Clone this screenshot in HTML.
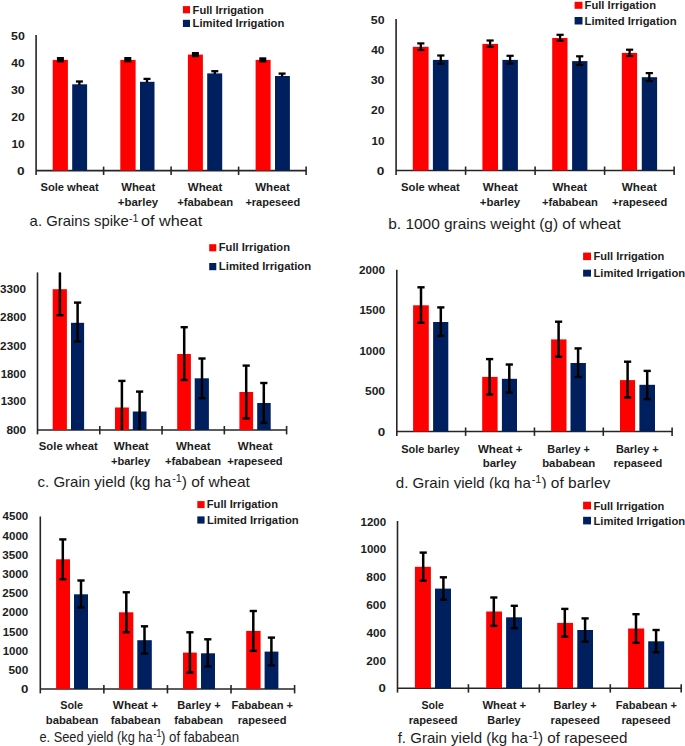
<!DOCTYPE html>
<html><head><meta charset="utf-8"><style>
html,body{margin:0;padding:0;background:#fff;}
svg{display:block;}
text{font-family:"Liberation Sans",sans-serif;}
</style></head><body>
<svg width="685" height="746" viewBox="0 0 685 746">
<rect width="685" height="746" fill="#fff"/>
<line x1="36.10" y1="35.00" x2="36.10" y2="175.00" stroke="#262626" stroke-width="1.60"/>
<line x1="36.10" y1="170.60" x2="306.10" y2="170.60" stroke="#262626" stroke-width="1.60"/>
<line x1="103.60" y1="166.60" x2="103.60" y2="175.00" stroke="#262626" stroke-width="1.60"/>
<line x1="171.10" y1="166.60" x2="171.10" y2="175.00" stroke="#262626" stroke-width="1.60"/>
<line x1="238.60" y1="166.60" x2="238.60" y2="175.00" stroke="#262626" stroke-width="1.60"/>
<line x1="306.10" y1="166.60" x2="306.10" y2="175.00" stroke="#262626" stroke-width="1.60"/>
<rect x="52.70" y="59.90" width="15.20" height="110.70" fill="#ff0000"/>
<rect x="72.20" y="84.30" width="14.90" height="86.30" fill="#001f5f"/>
<rect x="120.30" y="59.90" width="15.30" height="110.70" fill="#ff0000"/>
<rect x="140.00" y="81.80" width="14.50" height="88.80" fill="#001f5f"/>
<rect x="187.90" y="54.60" width="15.00" height="116.00" fill="#ff0000"/>
<rect x="207.20" y="73.40" width="15.00" height="97.20" fill="#001f5f"/>
<rect x="255.60" y="59.90" width="15.00" height="110.70" fill="#ff0000"/>
<rect x="275.00" y="76.00" width="14.90" height="94.60" fill="#001f5f"/>
<rect x="56.90" y="57.00" width="7.00" height="5.40" fill="#000000"/>
<rect x="124.30" y="57.00" width="7.00" height="5.40" fill="#000000"/>
<rect x="191.90" y="52.00" width="7.00" height="5.20" fill="#000000"/>
<rect x="259.30" y="57.30" width="7.00" height="5.20" fill="#000000"/>
<line x1="79.40" y1="81.50" x2="79.40" y2="85.00" stroke="#000000" stroke-width="2.30"/>
<line x1="75.90" y1="81.50" x2="82.90" y2="81.50" stroke="#000000" stroke-width="2.30"/>
<line x1="147.00" y1="78.90" x2="147.00" y2="82.50" stroke="#000000" stroke-width="2.30"/>
<line x1="143.50" y1="78.90" x2="150.50" y2="78.90" stroke="#000000" stroke-width="2.30"/>
<line x1="214.80" y1="71.20" x2="214.80" y2="74.00" stroke="#000000" stroke-width="2.30"/>
<line x1="211.30" y1="71.20" x2="218.30" y2="71.20" stroke="#000000" stroke-width="2.30"/>
<line x1="282.10" y1="73.60" x2="282.10" y2="76.70" stroke="#000000" stroke-width="2.30"/>
<line x1="278.60" y1="73.60" x2="285.60" y2="73.60" stroke="#000000" stroke-width="2.30"/>
<rect x="182.90" y="6.10" width="7.10" height="7.20" fill="#ff0000"/>
<rect x="182.90" y="19.80" width="7.10" height="7.20" fill="#001f5f"/>
<line x1="396.10" y1="19.00" x2="396.10" y2="174.90" stroke="#262626" stroke-width="1.60"/>
<line x1="396.10" y1="170.50" x2="674.10" y2="170.50" stroke="#262626" stroke-width="1.60"/>
<line x1="465.60" y1="166.50" x2="465.60" y2="174.90" stroke="#262626" stroke-width="1.60"/>
<line x1="535.10" y1="166.50" x2="535.10" y2="174.90" stroke="#262626" stroke-width="1.60"/>
<line x1="604.60" y1="166.50" x2="604.60" y2="174.90" stroke="#262626" stroke-width="1.60"/>
<line x1="674.10" y1="166.50" x2="674.10" y2="174.90" stroke="#262626" stroke-width="1.60"/>
<rect x="412.80" y="46.80" width="15.80" height="123.70" fill="#ff0000"/>
<rect x="432.90" y="59.90" width="15.60" height="110.60" fill="#001f5f"/>
<rect x="482.40" y="43.90" width="15.60" height="126.60" fill="#ff0000"/>
<rect x="502.40" y="59.90" width="15.50" height="110.60" fill="#001f5f"/>
<rect x="552.20" y="38.00" width="15.30" height="132.50" fill="#ff0000"/>
<rect x="572.10" y="61.10" width="15.30" height="109.40" fill="#001f5f"/>
<rect x="621.80" y="52.90" width="15.30" height="117.60" fill="#ff0000"/>
<rect x="641.80" y="77.20" width="15.30" height="93.30" fill="#001f5f"/>
<line x1="420.80" y1="43.40" x2="420.80" y2="50.00" stroke="#000000" stroke-width="2.30"/>
<line x1="417.20" y1="43.40" x2="424.40" y2="43.40" stroke="#000000" stroke-width="2.20"/>
<line x1="417.20" y1="50.00" x2="424.40" y2="50.00" stroke="#000000" stroke-width="2.20"/>
<line x1="440.80" y1="55.50" x2="440.80" y2="63.80" stroke="#000000" stroke-width="2.30"/>
<line x1="437.20" y1="55.50" x2="444.40" y2="55.50" stroke="#000000" stroke-width="2.20"/>
<line x1="437.20" y1="63.80" x2="444.40" y2="63.80" stroke="#000000" stroke-width="2.20"/>
<line x1="490.10" y1="40.50" x2="490.10" y2="46.80" stroke="#000000" stroke-width="2.30"/>
<line x1="486.50" y1="40.50" x2="493.70" y2="40.50" stroke="#000000" stroke-width="2.20"/>
<line x1="486.50" y1="46.80" x2="493.70" y2="46.80" stroke="#000000" stroke-width="2.20"/>
<line x1="510.10" y1="55.80" x2="510.10" y2="63.60" stroke="#000000" stroke-width="2.30"/>
<line x1="506.50" y1="55.80" x2="513.70" y2="55.80" stroke="#000000" stroke-width="2.20"/>
<line x1="506.50" y1="63.60" x2="513.70" y2="63.60" stroke="#000000" stroke-width="2.20"/>
<line x1="560.10" y1="34.80" x2="560.10" y2="40.70" stroke="#000000" stroke-width="2.30"/>
<line x1="556.50" y1="34.80" x2="563.70" y2="34.80" stroke="#000000" stroke-width="2.20"/>
<line x1="556.50" y1="40.70" x2="563.70" y2="40.70" stroke="#000000" stroke-width="2.20"/>
<line x1="579.70" y1="56.30" x2="579.70" y2="65.00" stroke="#000000" stroke-width="2.30"/>
<line x1="576.10" y1="56.30" x2="583.30" y2="56.30" stroke="#000000" stroke-width="2.20"/>
<line x1="576.10" y1="65.00" x2="583.30" y2="65.00" stroke="#000000" stroke-width="2.20"/>
<line x1="629.60" y1="49.70" x2="629.60" y2="56.00" stroke="#000000" stroke-width="2.30"/>
<line x1="626.00" y1="49.70" x2="633.20" y2="49.70" stroke="#000000" stroke-width="2.20"/>
<line x1="626.00" y1="56.00" x2="633.20" y2="56.00" stroke="#000000" stroke-width="2.20"/>
<line x1="649.30" y1="73.10" x2="649.30" y2="81.10" stroke="#000000" stroke-width="2.30"/>
<line x1="645.70" y1="73.10" x2="652.90" y2="73.10" stroke="#000000" stroke-width="2.20"/>
<line x1="645.70" y1="81.10" x2="652.90" y2="81.10" stroke="#000000" stroke-width="2.20"/>
<rect x="574.60" y="1.80" width="7.90" height="7.00" fill="#ff0000"/>
<rect x="574.60" y="17.00" width="7.90" height="7.50" fill="#001f5f"/>
<line x1="37.50" y1="272.40" x2="37.50" y2="434.40" stroke="#262626" stroke-width="1.60"/>
<line x1="37.50" y1="430.00" x2="286.60" y2="430.00" stroke="#262626" stroke-width="1.60"/>
<line x1="99.78" y1="426.00" x2="99.78" y2="434.40" stroke="#262626" stroke-width="1.60"/>
<line x1="162.05" y1="426.00" x2="162.05" y2="434.40" stroke="#262626" stroke-width="1.60"/>
<line x1="224.33" y1="426.00" x2="224.33" y2="434.40" stroke="#262626" stroke-width="1.60"/>
<line x1="286.60" y1="426.00" x2="286.60" y2="434.40" stroke="#262626" stroke-width="1.60"/>
<rect x="52.70" y="289.20" width="14.20" height="140.80" fill="#ff0000"/>
<rect x="71.00" y="322.80" width="13.10" height="107.20" fill="#001f5f"/>
<rect x="115.00" y="407.50" width="13.90" height="22.50" fill="#ff0000"/>
<rect x="132.80" y="411.50" width="13.70" height="18.50" fill="#001f5f"/>
<rect x="177.20" y="354.00" width="13.70" height="76.00" fill="#ff0000"/>
<rect x="194.70" y="378.30" width="14.20" height="51.70" fill="#001f5f"/>
<rect x="239.40" y="392.00" width="13.70" height="38.00" fill="#ff0000"/>
<rect x="257.20" y="403.00" width="13.50" height="27.00" fill="#001f5f"/>
<line x1="59.90" y1="272.40" x2="59.90" y2="315.20" stroke="#000000" stroke-width="2.50"/>
<line x1="56.30" y1="315.20" x2="63.50" y2="315.20" stroke="#000000" stroke-width="2.40"/>
<line x1="77.60" y1="302.60" x2="77.60" y2="341.50" stroke="#000000" stroke-width="2.50"/>
<line x1="74.00" y1="302.60" x2="81.20" y2="302.60" stroke="#000000" stroke-width="2.40"/>
<line x1="74.00" y1="341.50" x2="81.20" y2="341.50" stroke="#000000" stroke-width="2.40"/>
<line x1="121.90" y1="380.90" x2="121.90" y2="430.00" stroke="#000000" stroke-width="2.50"/>
<line x1="118.30" y1="380.90" x2="125.50" y2="380.90" stroke="#000000" stroke-width="2.40"/>
<line x1="139.60" y1="391.60" x2="139.60" y2="430.00" stroke="#000000" stroke-width="2.50"/>
<line x1="136.00" y1="391.60" x2="143.20" y2="391.60" stroke="#000000" stroke-width="2.40"/>
<line x1="184.20" y1="327.20" x2="184.20" y2="380.00" stroke="#000000" stroke-width="2.50"/>
<line x1="180.60" y1="327.20" x2="187.80" y2="327.20" stroke="#000000" stroke-width="2.40"/>
<line x1="180.60" y1="380.00" x2="187.80" y2="380.00" stroke="#000000" stroke-width="2.40"/>
<line x1="202.00" y1="358.50" x2="202.00" y2="398.20" stroke="#000000" stroke-width="2.50"/>
<line x1="198.40" y1="358.50" x2="205.60" y2="358.50" stroke="#000000" stroke-width="2.40"/>
<line x1="198.40" y1="398.20" x2="205.60" y2="398.20" stroke="#000000" stroke-width="2.40"/>
<line x1="246.20" y1="365.60" x2="246.20" y2="418.40" stroke="#000000" stroke-width="2.50"/>
<line x1="242.60" y1="365.60" x2="249.80" y2="365.60" stroke="#000000" stroke-width="2.40"/>
<line x1="242.60" y1="418.40" x2="249.80" y2="418.40" stroke="#000000" stroke-width="2.40"/>
<line x1="263.80" y1="383.00" x2="263.80" y2="422.90" stroke="#000000" stroke-width="2.50"/>
<line x1="260.20" y1="383.00" x2="267.40" y2="383.00" stroke="#000000" stroke-width="2.40"/>
<line x1="260.20" y1="422.90" x2="267.40" y2="422.90" stroke="#000000" stroke-width="2.40"/>
<rect x="209.20" y="244.20" width="7.10" height="7.10" fill="#ff0000"/>
<rect x="209.20" y="263.00" width="7.10" height="7.20" fill="#001f5f"/>
<line x1="396.80" y1="269.80" x2="396.80" y2="435.90" stroke="#262626" stroke-width="1.60"/>
<line x1="396.80" y1="431.50" x2="672.10" y2="431.50" stroke="#262626" stroke-width="1.60"/>
<line x1="465.62" y1="427.50" x2="465.62" y2="435.90" stroke="#262626" stroke-width="1.60"/>
<line x1="534.45" y1="427.50" x2="534.45" y2="435.90" stroke="#262626" stroke-width="1.60"/>
<line x1="603.28" y1="427.50" x2="603.28" y2="435.90" stroke="#262626" stroke-width="1.60"/>
<line x1="672.10" y1="427.50" x2="672.10" y2="435.90" stroke="#262626" stroke-width="1.60"/>
<rect x="413.10" y="305.30" width="15.70" height="126.20" fill="#ff0000"/>
<rect x="433.10" y="322.00" width="15.20" height="109.50" fill="#001f5f"/>
<rect x="482.20" y="376.90" width="15.40" height="54.60" fill="#ff0000"/>
<rect x="501.90" y="378.80" width="15.10" height="52.70" fill="#001f5f"/>
<rect x="551.10" y="339.40" width="15.40" height="92.10" fill="#ff0000"/>
<rect x="570.50" y="363.00" width="15.40" height="68.50" fill="#001f5f"/>
<rect x="620.00" y="380.10" width="15.10" height="51.40" fill="#ff0000"/>
<rect x="639.40" y="384.80" width="15.60" height="46.70" fill="#001f5f"/>
<line x1="421.00" y1="287.30" x2="421.00" y2="322.80" stroke="#000000" stroke-width="2.50"/>
<line x1="417.40" y1="287.30" x2="424.60" y2="287.30" stroke="#000000" stroke-width="2.40"/>
<line x1="417.40" y1="322.80" x2="424.60" y2="322.80" stroke="#000000" stroke-width="2.40"/>
<line x1="440.80" y1="307.40" x2="440.80" y2="335.90" stroke="#000000" stroke-width="2.50"/>
<line x1="437.20" y1="307.40" x2="444.40" y2="307.40" stroke="#000000" stroke-width="2.40"/>
<line x1="437.20" y1="335.90" x2="444.40" y2="335.90" stroke="#000000" stroke-width="2.40"/>
<line x1="489.60" y1="359.10" x2="489.60" y2="394.40" stroke="#000000" stroke-width="2.50"/>
<line x1="486.00" y1="359.10" x2="493.20" y2="359.10" stroke="#000000" stroke-width="2.40"/>
<line x1="486.00" y1="394.40" x2="493.20" y2="394.40" stroke="#000000" stroke-width="2.40"/>
<line x1="509.30" y1="364.50" x2="509.30" y2="392.50" stroke="#000000" stroke-width="2.50"/>
<line x1="505.70" y1="364.50" x2="512.90" y2="364.50" stroke="#000000" stroke-width="2.40"/>
<line x1="505.70" y1="392.50" x2="512.90" y2="392.50" stroke="#000000" stroke-width="2.40"/>
<line x1="558.60" y1="321.70" x2="558.60" y2="356.80" stroke="#000000" stroke-width="2.50"/>
<line x1="555.00" y1="321.70" x2="562.20" y2="321.70" stroke="#000000" stroke-width="2.40"/>
<line x1="555.00" y1="356.80" x2="562.20" y2="356.80" stroke="#000000" stroke-width="2.40"/>
<line x1="578.10" y1="348.40" x2="578.10" y2="377.00" stroke="#000000" stroke-width="2.50"/>
<line x1="574.50" y1="348.40" x2="581.70" y2="348.40" stroke="#000000" stroke-width="2.40"/>
<line x1="574.50" y1="377.00" x2="581.70" y2="377.00" stroke="#000000" stroke-width="2.40"/>
<line x1="627.60" y1="361.70" x2="627.60" y2="397.50" stroke="#000000" stroke-width="2.50"/>
<line x1="624.00" y1="361.70" x2="631.20" y2="361.70" stroke="#000000" stroke-width="2.40"/>
<line x1="624.00" y1="397.50" x2="631.20" y2="397.50" stroke="#000000" stroke-width="2.40"/>
<line x1="647.20" y1="370.90" x2="647.20" y2="399.10" stroke="#000000" stroke-width="2.50"/>
<line x1="643.60" y1="370.90" x2="650.80" y2="370.90" stroke="#000000" stroke-width="2.40"/>
<line x1="643.60" y1="399.10" x2="650.80" y2="399.10" stroke="#000000" stroke-width="2.40"/>
<rect x="583.10" y="252.60" width="7.90" height="7.50" fill="#ff0000"/>
<rect x="583.10" y="269.70" width="7.90" height="6.90" fill="#001f5f"/>
<line x1="40.30" y1="516.50" x2="40.30" y2="693.40" stroke="#262626" stroke-width="1.60"/>
<line x1="40.30" y1="689.00" x2="294.60" y2="689.00" stroke="#262626" stroke-width="1.60"/>
<line x1="103.88" y1="685.00" x2="103.88" y2="693.40" stroke="#262626" stroke-width="1.60"/>
<line x1="167.45" y1="685.00" x2="167.45" y2="693.40" stroke="#262626" stroke-width="1.60"/>
<line x1="231.03" y1="685.00" x2="231.03" y2="693.40" stroke="#262626" stroke-width="1.60"/>
<line x1="294.60" y1="685.00" x2="294.60" y2="693.40" stroke="#262626" stroke-width="1.60"/>
<rect x="56.10" y="559.30" width="13.90" height="129.70" fill="#ff0000"/>
<rect x="74.00" y="594.30" width="14.00" height="94.70" fill="#001f5f"/>
<rect x="119.00" y="612.30" width="14.30" height="76.70" fill="#ff0000"/>
<rect x="137.30" y="640.20" width="14.50" height="48.80" fill="#001f5f"/>
<rect x="183.00" y="652.60" width="13.80" height="36.40" fill="#ff0000"/>
<rect x="201.00" y="653.30" width="14.00" height="35.70" fill="#001f5f"/>
<rect x="246.20" y="630.90" width="14.40" height="58.10" fill="#ff0000"/>
<rect x="264.60" y="651.60" width="13.80" height="37.40" fill="#001f5f"/>
<line x1="62.80" y1="539.40" x2="62.80" y2="579.30" stroke="#000000" stroke-width="2.50"/>
<line x1="59.20" y1="539.40" x2="66.40" y2="539.40" stroke="#000000" stroke-width="2.40"/>
<line x1="59.20" y1="579.30" x2="66.40" y2="579.30" stroke="#000000" stroke-width="2.40"/>
<line x1="81.00" y1="580.50" x2="81.00" y2="607.60" stroke="#000000" stroke-width="2.50"/>
<line x1="77.40" y1="580.50" x2="84.60" y2="580.50" stroke="#000000" stroke-width="2.40"/>
<line x1="77.40" y1="607.60" x2="84.60" y2="607.60" stroke="#000000" stroke-width="2.40"/>
<line x1="126.30" y1="592.30" x2="126.30" y2="632.20" stroke="#000000" stroke-width="2.50"/>
<line x1="122.70" y1="592.30" x2="129.90" y2="592.30" stroke="#000000" stroke-width="2.40"/>
<line x1="122.70" y1="632.20" x2="129.90" y2="632.20" stroke="#000000" stroke-width="2.40"/>
<line x1="144.50" y1="626.30" x2="144.50" y2="653.60" stroke="#000000" stroke-width="2.50"/>
<line x1="140.90" y1="626.30" x2="148.10" y2="626.30" stroke="#000000" stroke-width="2.40"/>
<line x1="140.90" y1="653.60" x2="148.10" y2="653.60" stroke="#000000" stroke-width="2.40"/>
<line x1="189.90" y1="632.30" x2="189.90" y2="672.50" stroke="#000000" stroke-width="2.50"/>
<line x1="186.30" y1="632.30" x2="193.50" y2="632.30" stroke="#000000" stroke-width="2.40"/>
<line x1="186.30" y1="672.50" x2="193.50" y2="672.50" stroke="#000000" stroke-width="2.40"/>
<line x1="207.80" y1="639.30" x2="207.80" y2="666.40" stroke="#000000" stroke-width="2.50"/>
<line x1="204.20" y1="639.30" x2="211.40" y2="639.30" stroke="#000000" stroke-width="2.40"/>
<line x1="204.20" y1="666.40" x2="211.40" y2="666.40" stroke="#000000" stroke-width="2.40"/>
<line x1="253.30" y1="611.00" x2="253.30" y2="650.90" stroke="#000000" stroke-width="2.50"/>
<line x1="249.70" y1="611.00" x2="256.90" y2="611.00" stroke="#000000" stroke-width="2.40"/>
<line x1="249.70" y1="650.90" x2="256.90" y2="650.90" stroke="#000000" stroke-width="2.40"/>
<line x1="271.40" y1="637.60" x2="271.40" y2="665.50" stroke="#000000" stroke-width="2.50"/>
<line x1="267.80" y1="637.60" x2="275.00" y2="637.60" stroke="#000000" stroke-width="2.40"/>
<line x1="267.80" y1="665.50" x2="275.00" y2="665.50" stroke="#000000" stroke-width="2.40"/>
<rect x="197.30" y="501.10" width="7.30" height="7.00" fill="#ff0000"/>
<rect x="197.30" y="516.40" width="7.30" height="7.20" fill="#001f5f"/>
<line x1="397.50" y1="521.00" x2="397.50" y2="692.60" stroke="#262626" stroke-width="1.60"/>
<line x1="397.50" y1="688.20" x2="681.20" y2="688.20" stroke="#262626" stroke-width="1.60"/>
<line x1="468.43" y1="684.20" x2="468.43" y2="692.60" stroke="#262626" stroke-width="1.60"/>
<line x1="539.35" y1="684.20" x2="539.35" y2="692.60" stroke="#262626" stroke-width="1.60"/>
<line x1="610.28" y1="684.20" x2="610.28" y2="692.60" stroke="#262626" stroke-width="1.60"/>
<line x1="681.20" y1="684.20" x2="681.20" y2="692.60" stroke="#262626" stroke-width="1.60"/>
<rect x="414.90" y="566.80" width="16.00" height="121.40" fill="#ff0000"/>
<rect x="435.00" y="588.60" width="16.00" height="99.60" fill="#001f5f"/>
<rect x="486.20" y="611.50" width="15.80" height="76.70" fill="#ff0000"/>
<rect x="506.10" y="617.30" width="15.90" height="70.90" fill="#001f5f"/>
<rect x="557.20" y="622.90" width="15.80" height="65.30" fill="#ff0000"/>
<rect x="577.30" y="630.00" width="15.70" height="58.20" fill="#001f5f"/>
<rect x="628.10" y="628.50" width="16.10" height="59.70" fill="#ff0000"/>
<rect x="648.20" y="641.30" width="16.00" height="46.90" fill="#001f5f"/>
<line x1="423.20" y1="552.60" x2="423.20" y2="580.70" stroke="#000000" stroke-width="2.50"/>
<line x1="419.60" y1="552.60" x2="426.80" y2="552.60" stroke="#000000" stroke-width="2.40"/>
<line x1="419.60" y1="580.70" x2="426.80" y2="580.70" stroke="#000000" stroke-width="2.40"/>
<line x1="443.40" y1="577.30" x2="443.40" y2="599.70" stroke="#000000" stroke-width="2.50"/>
<line x1="439.80" y1="577.30" x2="447.00" y2="577.30" stroke="#000000" stroke-width="2.40"/>
<line x1="439.80" y1="599.70" x2="447.00" y2="599.70" stroke="#000000" stroke-width="2.40"/>
<line x1="493.80" y1="597.50" x2="493.80" y2="625.90" stroke="#000000" stroke-width="2.50"/>
<line x1="490.20" y1="597.50" x2="497.40" y2="597.50" stroke="#000000" stroke-width="2.40"/>
<line x1="490.20" y1="625.90" x2="497.40" y2="625.90" stroke="#000000" stroke-width="2.40"/>
<line x1="514.30" y1="605.80" x2="514.30" y2="628.20" stroke="#000000" stroke-width="2.50"/>
<line x1="510.70" y1="605.80" x2="517.90" y2="605.80" stroke="#000000" stroke-width="2.40"/>
<line x1="510.70" y1="628.20" x2="517.90" y2="628.20" stroke="#000000" stroke-width="2.40"/>
<line x1="564.80" y1="608.90" x2="564.80" y2="636.60" stroke="#000000" stroke-width="2.50"/>
<line x1="561.20" y1="608.90" x2="568.40" y2="608.90" stroke="#000000" stroke-width="2.40"/>
<line x1="561.20" y1="636.60" x2="568.40" y2="636.60" stroke="#000000" stroke-width="2.40"/>
<line x1="585.10" y1="618.40" x2="585.10" y2="641.70" stroke="#000000" stroke-width="2.50"/>
<line x1="581.50" y1="618.40" x2="588.70" y2="618.40" stroke="#000000" stroke-width="2.40"/>
<line x1="581.50" y1="641.70" x2="588.70" y2="641.70" stroke="#000000" stroke-width="2.40"/>
<line x1="636.00" y1="614.20" x2="636.00" y2="642.90" stroke="#000000" stroke-width="2.50"/>
<line x1="632.40" y1="614.20" x2="639.60" y2="614.20" stroke="#000000" stroke-width="2.40"/>
<line x1="632.40" y1="642.90" x2="639.60" y2="642.90" stroke="#000000" stroke-width="2.40"/>
<line x1="656.10" y1="630.00" x2="656.10" y2="652.20" stroke="#000000" stroke-width="2.50"/>
<line x1="652.50" y1="630.00" x2="659.70" y2="630.00" stroke="#000000" stroke-width="2.40"/>
<line x1="652.50" y1="652.20" x2="659.70" y2="652.20" stroke="#000000" stroke-width="2.40"/>
<rect x="583.10" y="501.70" width="7.90" height="7.60" fill="#ff0000"/>
<rect x="583.10" y="516.80" width="7.90" height="7.60" fill="#001f5f"/>
<text id="t0" x="20.92" y="174.70" text-anchor="middle" font-family="Liberation Sans" font-weight="bold" font-size="10.60" textLength="7.62" lengthAdjust="spacingAndGlyphs" fill="#1c1c1c">0</text>
<text id="t1" x="18.01" y="147.66" text-anchor="middle" font-family="Liberation Sans" font-weight="bold" font-size="10.60" textLength="13.23" lengthAdjust="spacingAndGlyphs" fill="#1c1c1c">10</text>
<text id="t2" x="17.95" y="120.62" text-anchor="middle" font-family="Liberation Sans" font-weight="bold" font-size="10.60" textLength="13.49" lengthAdjust="spacingAndGlyphs" fill="#1c1c1c">20</text>
<text id="t3" x="17.84" y="93.58" text-anchor="middle" font-family="Liberation Sans" font-weight="bold" font-size="10.60" textLength="13.71" lengthAdjust="spacingAndGlyphs" fill="#1c1c1c">30</text>
<text id="t4" x="18.05" y="66.54" text-anchor="middle" font-family="Liberation Sans" font-weight="bold" font-size="10.60" textLength="13.38" lengthAdjust="spacingAndGlyphs" fill="#1c1c1c">40</text>
<text id="t5" x="17.91" y="39.50" text-anchor="middle" font-family="Liberation Sans" font-weight="bold" font-size="10.60" textLength="13.77" lengthAdjust="spacingAndGlyphs" fill="#1c1c1c">50</text>
<text id="t6" x="228.17" y="13.90" text-anchor="middle" font-family="Liberation Sans" font-weight="bold" font-size="11.20" textLength="71.13" lengthAdjust="spacingAndGlyphs" fill="#1c1c1c">Full&#160;Irrigation</text>
<text id="t7" x="238.43" y="27.40" text-anchor="middle" font-family="Liberation Sans" font-weight="bold" font-size="11.20" textLength="91.68" lengthAdjust="spacingAndGlyphs" fill="#1c1c1c">Limited&#160;Irrigation</text>
<text id="t8" x="69.60" y="190.50" text-anchor="middle" font-family="Liberation Sans" font-weight="bold" font-size="11.20" textLength="58.18" lengthAdjust="spacingAndGlyphs" fill="#1c1c1c">Sole&#160;wheat</text>
<text id="t9" x="138.19" y="190.50" text-anchor="middle" font-family="Liberation Sans" font-weight="bold" font-size="11.20" textLength="33.98" lengthAdjust="spacingAndGlyphs" fill="#1c1c1c">Wheat</text>
<text id="t10" x="138.05" y="206.20" text-anchor="middle" font-family="Liberation Sans" font-weight="bold" font-size="11.20" textLength="40.36" lengthAdjust="spacingAndGlyphs" fill="#1c1c1c">+barley</text>
<text id="t11" x="205.08" y="190.50" text-anchor="middle" font-family="Liberation Sans" font-weight="bold" font-size="11.20" textLength="34.62" lengthAdjust="spacingAndGlyphs" fill="#1c1c1c">Wheat</text>
<text id="t12" x="205.16" y="206.20" text-anchor="middle" font-family="Liberation Sans" font-weight="bold" font-size="11.20" textLength="55.99" lengthAdjust="spacingAndGlyphs" fill="#1c1c1c">+fababean</text>
<text id="t13" x="272.51" y="190.50" text-anchor="middle" font-family="Liberation Sans" font-weight="bold" font-size="11.20" textLength="34.64" lengthAdjust="spacingAndGlyphs" fill="#1c1c1c">Wheat</text>
<text id="t14" x="272.76" y="206.20" text-anchor="middle" font-family="Liberation Sans" font-weight="bold" font-size="11.20" textLength="54.70" lengthAdjust="spacingAndGlyphs" fill="#1c1c1c">+rapeseed</text>
<text id="t15" x="79.15" y="225.90" text-anchor="middle" font-family="Liberation Sans" font-weight="normal" font-size="14.30" textLength="99.04" lengthAdjust="spacingAndGlyphs" fill="#1c1c1c">a.&#160;Grains&#160;spike</text>
<text id="t16" x="133.65" y="222.00" text-anchor="middle" font-family="Liberation Sans" font-weight="normal" font-size="10.00" textLength="9.50" lengthAdjust="spacingAndGlyphs" fill="#1c1c1c">-1</text>
<text id="t17" x="171.64" y="225.90" text-anchor="middle" font-family="Liberation Sans" font-weight="normal" font-size="14.30" textLength="61.25" lengthAdjust="spacingAndGlyphs" fill="#1c1c1c">of&#160;wheat</text>
<text id="t18" x="380.69" y="174.60" text-anchor="middle" font-family="Liberation Sans" font-weight="bold" font-size="10.60" textLength="7.62" lengthAdjust="spacingAndGlyphs" fill="#1c1c1c">0</text>
<text id="t19" x="377.95" y="144.50" text-anchor="middle" font-family="Liberation Sans" font-weight="bold" font-size="10.60" textLength="12.99" lengthAdjust="spacingAndGlyphs" fill="#1c1c1c">10</text>
<text id="t20" x="377.80" y="114.40" text-anchor="middle" font-family="Liberation Sans" font-weight="bold" font-size="10.60" textLength="13.36" lengthAdjust="spacingAndGlyphs" fill="#1c1c1c">20</text>
<text id="t21" x="377.64" y="84.30" text-anchor="middle" font-family="Liberation Sans" font-weight="bold" font-size="10.60" textLength="13.79" lengthAdjust="spacingAndGlyphs" fill="#1c1c1c">30</text>
<text id="t22" x="377.85" y="54.20" text-anchor="middle" font-family="Liberation Sans" font-weight="bold" font-size="10.60" textLength="13.19" lengthAdjust="spacingAndGlyphs" fill="#1c1c1c">40</text>
<text id="t23" x="377.66" y="24.10" text-anchor="middle" font-family="Liberation Sans" font-weight="bold" font-size="10.60" textLength="13.72" lengthAdjust="spacingAndGlyphs" fill="#1c1c1c">50</text>
<text id="t24" x="620.31" y="9.00" text-anchor="middle" font-family="Liberation Sans" font-weight="bold" font-size="11.20" textLength="71.43" lengthAdjust="spacingAndGlyphs" fill="#1c1c1c">Full&#160;Irrigation</text>
<text id="t25" x="630.55" y="24.60" text-anchor="middle" font-family="Liberation Sans" font-weight="bold" font-size="11.20" textLength="91.94" lengthAdjust="spacingAndGlyphs" fill="#1c1c1c">Limited&#160;Irrigation</text>
<text id="t26" x="430.49" y="190.50" text-anchor="middle" font-family="Liberation Sans" font-weight="bold" font-size="11.20" textLength="58.70" lengthAdjust="spacingAndGlyphs" fill="#1c1c1c">Sole&#160;wheat</text>
<text id="t27" x="500.29" y="190.60" text-anchor="middle" font-family="Liberation Sans" font-weight="bold" font-size="11.20" textLength="35.05" lengthAdjust="spacingAndGlyphs" fill="#1c1c1c">Wheat</text>
<text id="t28" x="500.05" y="205.80" text-anchor="middle" font-family="Liberation Sans" font-weight="bold" font-size="11.20" textLength="40.36" lengthAdjust="spacingAndGlyphs" fill="#1c1c1c">+barley</text>
<text id="t29" x="569.80" y="190.60" text-anchor="middle" font-family="Liberation Sans" font-weight="bold" font-size="11.20" textLength="34.76" lengthAdjust="spacingAndGlyphs" fill="#1c1c1c">Wheat</text>
<text id="t30" x="569.92" y="205.80" text-anchor="middle" font-family="Liberation Sans" font-weight="bold" font-size="11.20" textLength="55.94" lengthAdjust="spacingAndGlyphs" fill="#1c1c1c">+fababean</text>
<text id="t31" x="639.33" y="190.60" text-anchor="middle" font-family="Liberation Sans" font-weight="bold" font-size="11.20" textLength="35.04" lengthAdjust="spacingAndGlyphs" fill="#1c1c1c">Wheat</text>
<text id="t32" x="639.59" y="205.80" text-anchor="middle" font-family="Liberation Sans" font-weight="bold" font-size="11.20" textLength="55.34" lengthAdjust="spacingAndGlyphs" fill="#1c1c1c">+rapeseed</text>
<text id="t33" x="504.46" y="228.50" text-anchor="middle" font-family="Liberation Sans" font-weight="normal" font-size="14.30" textLength="232.42" lengthAdjust="spacingAndGlyphs" fill="#1c1c1c">b.&#160;1000&#160;grains&#160;weight&#160;(g)&#160;of&#160;wheat</text>
<text id="t34" x="13.02" y="292.90" text-anchor="middle" font-family="Liberation Sans" font-weight="bold" font-size="10.60" textLength="26.06" lengthAdjust="spacingAndGlyphs" fill="#1c1c1c">3300</text>
<text id="t35" x="13.16" y="321.00" text-anchor="middle" font-family="Liberation Sans" font-weight="bold" font-size="10.60" textLength="26.07" lengthAdjust="spacingAndGlyphs" fill="#1c1c1c">2800</text>
<text id="t36" x="13.16" y="349.50" text-anchor="middle" font-family="Liberation Sans" font-weight="bold" font-size="10.60" textLength="26.07" lengthAdjust="spacingAndGlyphs" fill="#1c1c1c">2300</text>
<text id="t37" x="13.38" y="377.70" text-anchor="middle" font-family="Liberation Sans" font-weight="bold" font-size="10.60" textLength="25.29" lengthAdjust="spacingAndGlyphs" fill="#1c1c1c">1800</text>
<text id="t38" x="13.38" y="405.40" text-anchor="middle" font-family="Liberation Sans" font-weight="bold" font-size="10.60" textLength="25.29" lengthAdjust="spacingAndGlyphs" fill="#1c1c1c">1300</text>
<text id="t39" x="16.29" y="433.70" text-anchor="middle" font-family="Liberation Sans" font-weight="bold" font-size="10.60" textLength="19.78" lengthAdjust="spacingAndGlyphs" fill="#1c1c1c">800</text>
<text id="t40" x="254.38" y="251.40" text-anchor="middle" font-family="Liberation Sans" font-weight="bold" font-size="11.20" textLength="71.21" lengthAdjust="spacingAndGlyphs" fill="#1c1c1c">Full&#160;Irrigation</text>
<text id="t41" x="265.02" y="270.00" text-anchor="middle" font-family="Liberation Sans" font-weight="bold" font-size="11.20" textLength="92.30" lengthAdjust="spacingAndGlyphs" fill="#1c1c1c">Limited&#160;Irrigation</text>
<text id="t42" x="68.30" y="450.10" text-anchor="middle" font-family="Liberation Sans" font-weight="bold" font-size="11.20" textLength="58.89" lengthAdjust="spacingAndGlyphs" fill="#1c1c1c">Sole&#160;wheat</text>
<text id="t43" x="131.25" y="449.90" text-anchor="middle" font-family="Liberation Sans" font-weight="bold" font-size="11.20" textLength="34.98" lengthAdjust="spacingAndGlyphs" fill="#1c1c1c">Wheat</text>
<text id="t44" x="130.53" y="465.00" text-anchor="middle" font-family="Liberation Sans" font-weight="bold" font-size="11.20" textLength="39.22" lengthAdjust="spacingAndGlyphs" fill="#1c1c1c">+barley</text>
<text id="t45" x="193.29" y="449.90" text-anchor="middle" font-family="Liberation Sans" font-weight="bold" font-size="11.20" textLength="34.64" lengthAdjust="spacingAndGlyphs" fill="#1c1c1c">Wheat</text>
<text id="t46" x="193.05" y="465.00" text-anchor="middle" font-family="Liberation Sans" font-weight="bold" font-size="11.20" textLength="56.07" lengthAdjust="spacingAndGlyphs" fill="#1c1c1c">+fababean</text>
<text id="t47" x="255.20" y="449.90" text-anchor="middle" font-family="Liberation Sans" font-weight="bold" font-size="11.20" textLength="34.68" lengthAdjust="spacingAndGlyphs" fill="#1c1c1c">Wheat</text>
<text id="t48" x="254.91" y="465.00" text-anchor="middle" font-family="Liberation Sans" font-weight="bold" font-size="11.20" textLength="55.49" lengthAdjust="spacingAndGlyphs" fill="#1c1c1c">+rapeseed</text>
<text id="t49" x="104.39" y="486.50" text-anchor="middle" font-family="Liberation Sans" font-weight="normal" font-size="14.30" textLength="133.69" lengthAdjust="spacingAndGlyphs" fill="#1c1c1c">c.&#160;Grain&#160;yield&#160;(kg&#160;ha</text>
<text id="t50" x="177.02" y="481.50" text-anchor="middle" font-family="Liberation Sans" font-weight="normal" font-size="10.00" textLength="9.57" lengthAdjust="spacingAndGlyphs" fill="#1c1c1c">-1</text>
<text id="t51" x="215.84" y="486.50" text-anchor="middle" font-family="Liberation Sans" font-weight="normal" font-size="14.30" textLength="68.16" lengthAdjust="spacingAndGlyphs" fill="#1c1c1c">)&#160;of&#160;wheat</text>
<text id="t52" x="371.97" y="274.00" text-anchor="middle" font-family="Liberation Sans" font-weight="bold" font-size="10.60" textLength="26.04" lengthAdjust="spacingAndGlyphs" fill="#1c1c1c">2000</text>
<text id="t53" x="372.25" y="314.20" text-anchor="middle" font-family="Liberation Sans" font-weight="bold" font-size="10.60" textLength="25.65" lengthAdjust="spacingAndGlyphs" fill="#1c1c1c">1500</text>
<text id="t54" x="372.25" y="354.70" text-anchor="middle" font-family="Liberation Sans" font-weight="bold" font-size="10.60" textLength="25.65" lengthAdjust="spacingAndGlyphs" fill="#1c1c1c">1000</text>
<text id="t55" x="375.04" y="395.10" text-anchor="middle" font-family="Liberation Sans" font-weight="bold" font-size="10.60" textLength="20.10" lengthAdjust="spacingAndGlyphs" fill="#1c1c1c">500</text>
<text id="t56" x="381.40" y="435.60" text-anchor="middle" font-family="Liberation Sans" font-weight="bold" font-size="10.60" textLength="7.50" lengthAdjust="spacingAndGlyphs" fill="#1c1c1c">0</text>
<text id="t57" x="628.91" y="260.30" text-anchor="middle" font-family="Liberation Sans" font-weight="bold" font-size="11.20" textLength="70.80" lengthAdjust="spacingAndGlyphs" fill="#1c1c1c">Full&#160;Irrigation</text>
<text id="t58" x="639.33" y="276.80" text-anchor="middle" font-family="Liberation Sans" font-weight="bold" font-size="11.20" textLength="91.67" lengthAdjust="spacingAndGlyphs" fill="#1c1c1c">Limited&#160;Irrigation</text>
<text id="t59" x="430.41" y="452.70" text-anchor="middle" font-family="Liberation Sans" font-weight="bold" font-size="11.20" textLength="58.43" lengthAdjust="spacingAndGlyphs" fill="#1c1c1c">Sole&#160;barley</text>
<text id="t60" x="500.24" y="452.60" text-anchor="middle" font-family="Liberation Sans" font-weight="bold" font-size="11.20" textLength="44.55" lengthAdjust="spacingAndGlyphs" fill="#1c1c1c">Wheat&#160;+</text>
<text id="t61" x="499.58" y="466.90" text-anchor="middle" font-family="Liberation Sans" font-weight="bold" font-size="11.20" textLength="33.77" lengthAdjust="spacingAndGlyphs" fill="#1c1c1c">barley</text>
<text id="t62" x="568.54" y="452.90" text-anchor="middle" font-family="Liberation Sans" font-weight="bold" font-size="11.20" textLength="42.39" lengthAdjust="spacingAndGlyphs" fill="#1c1c1c">Barley&#160;+</text>
<text id="t63" x="568.71" y="467.10" text-anchor="middle" font-family="Liberation Sans" font-weight="bold" font-size="11.20" textLength="53.07" lengthAdjust="spacingAndGlyphs" fill="#1c1c1c">bababean</text>
<text id="t64" x="637.31" y="452.90" text-anchor="middle" font-family="Liberation Sans" font-weight="bold" font-size="11.20" textLength="42.87" lengthAdjust="spacingAndGlyphs" fill="#1c1c1c">Barley&#160;+</text>
<text id="t65" x="637.82" y="467.10" text-anchor="middle" font-family="Liberation Sans" font-weight="bold" font-size="11.20" textLength="48.83" lengthAdjust="spacingAndGlyphs" fill="#1c1c1c">repaseed</text>
<text id="t66" x="463.34" y="488.10" text-anchor="middle" font-family="Liberation Sans" font-weight="normal" font-size="14.30" textLength="134.94" lengthAdjust="spacingAndGlyphs" fill="#1c1c1c">d.&#160;Grain&#160;yield&#160;(kg&#160;ha</text>
<text id="t67" x="536.60" y="483.10" text-anchor="middle" font-family="Liberation Sans" font-weight="normal" font-size="10.00" textLength="9.74" lengthAdjust="spacingAndGlyphs" fill="#1c1c1c">-1</text>
<text id="t68" x="575.84" y="488.10" text-anchor="middle" font-family="Liberation Sans" font-weight="normal" font-size="14.30" textLength="68.93" lengthAdjust="spacingAndGlyphs" fill="#1c1c1c">)&#160;of&#160;barley</text>
<text id="t69" x="24.69" y="693.10" text-anchor="middle" font-family="Liberation Sans" font-weight="bold" font-size="10.60" textLength="7.40" lengthAdjust="spacingAndGlyphs" fill="#1c1c1c">0</text>
<text id="t70" x="18.36" y="673.92" text-anchor="middle" font-family="Liberation Sans" font-weight="bold" font-size="10.60" textLength="19.77" lengthAdjust="spacingAndGlyphs" fill="#1c1c1c">500</text>
<text id="t71" x="15.49" y="654.74" text-anchor="middle" font-family="Liberation Sans" font-weight="bold" font-size="10.60" textLength="25.52" lengthAdjust="spacingAndGlyphs" fill="#1c1c1c">1000</text>
<text id="t72" x="15.49" y="635.56" text-anchor="middle" font-family="Liberation Sans" font-weight="bold" font-size="10.60" textLength="25.52" lengthAdjust="spacingAndGlyphs" fill="#1c1c1c">1500</text>
<text id="t73" x="15.24" y="616.38" text-anchor="middle" font-family="Liberation Sans" font-weight="bold" font-size="10.60" textLength="25.74" lengthAdjust="spacingAndGlyphs" fill="#1c1c1c">2000</text>
<text id="t74" x="15.24" y="597.20" text-anchor="middle" font-family="Liberation Sans" font-weight="bold" font-size="10.60" textLength="25.74" lengthAdjust="spacingAndGlyphs" fill="#1c1c1c">2500</text>
<text id="t75" x="15.17" y="578.02" text-anchor="middle" font-family="Liberation Sans" font-weight="bold" font-size="10.60" textLength="25.98" lengthAdjust="spacingAndGlyphs" fill="#1c1c1c">3000</text>
<text id="t76" x="15.17" y="558.84" text-anchor="middle" font-family="Liberation Sans" font-weight="bold" font-size="10.60" textLength="25.98" lengthAdjust="spacingAndGlyphs" fill="#1c1c1c">3500</text>
<text id="t77" x="15.42" y="539.66" text-anchor="middle" font-family="Liberation Sans" font-weight="bold" font-size="10.60" textLength="25.64" lengthAdjust="spacingAndGlyphs" fill="#1c1c1c">4000</text>
<text id="t78" x="15.42" y="520.48" text-anchor="middle" font-family="Liberation Sans" font-weight="bold" font-size="10.60" textLength="25.64" lengthAdjust="spacingAndGlyphs" fill="#1c1c1c">4500</text>
<text id="t79" x="242.38" y="508.30" text-anchor="middle" font-family="Liberation Sans" font-weight="bold" font-size="11.20" textLength="71.21" lengthAdjust="spacingAndGlyphs" fill="#1c1c1c">Full&#160;Irrigation</text>
<text id="t80" x="252.81" y="523.80" text-anchor="middle" font-family="Liberation Sans" font-weight="bold" font-size="11.20" textLength="91.87" lengthAdjust="spacingAndGlyphs" fill="#1c1c1c">Limited&#160;Irrigation</text>
<text id="t81" x="71.66" y="709.10" text-anchor="middle" font-family="Liberation Sans" font-weight="bold" font-size="11.20" textLength="22.91" lengthAdjust="spacingAndGlyphs" fill="#1c1c1c">Sole</text>
<text id="t82" x="72.12" y="723.80" text-anchor="middle" font-family="Liberation Sans" font-weight="bold" font-size="11.20" textLength="52.63" lengthAdjust="spacingAndGlyphs" fill="#1c1c1c">bababean</text>
<text id="t83" x="135.46" y="709.00" text-anchor="middle" font-family="Liberation Sans" font-weight="bold" font-size="11.20" textLength="45.24" lengthAdjust="spacingAndGlyphs" fill="#1c1c1c">Wheat&#160;+</text>
<text id="t84" x="135.70" y="723.60" text-anchor="middle" font-family="Liberation Sans" font-weight="bold" font-size="11.20" textLength="49.74" lengthAdjust="spacingAndGlyphs" fill="#1c1c1c">fababean</text>
<text id="t85" x="199.01" y="709.00" text-anchor="middle" font-family="Liberation Sans" font-weight="bold" font-size="11.20" textLength="43.40" lengthAdjust="spacingAndGlyphs" fill="#1c1c1c">Barley&#160;+</text>
<text id="t86" x="198.67" y="723.60" text-anchor="middle" font-family="Liberation Sans" font-weight="bold" font-size="11.20" textLength="48.95" lengthAdjust="spacingAndGlyphs" fill="#1c1c1c">fababean</text>
<text id="t87" x="262.31" y="709.00" text-anchor="middle" font-family="Liberation Sans" font-weight="bold" font-size="11.20" textLength="61.58" lengthAdjust="spacingAndGlyphs" fill="#1c1c1c">Fababean&#160;+</text>
<text id="t88" x="262.11" y="723.60" text-anchor="middle" font-family="Liberation Sans" font-weight="bold" font-size="11.20" textLength="48.61" lengthAdjust="spacingAndGlyphs" fill="#1c1c1c">rapeseed</text>
<text id="t89" x="96.03" y="741.60" text-anchor="middle" font-family="Liberation Sans" font-weight="normal" font-size="14.00" textLength="113.14" lengthAdjust="spacingAndGlyphs" fill="#1c1c1c">e.&#160;Seed&#160;yield&#160;(kg&#160;ha</text>
<text id="t90" x="157.43" y="737.30" text-anchor="middle" font-family="Liberation Sans" font-weight="normal" font-size="10.00" textLength="8.44" lengthAdjust="spacingAndGlyphs" fill="#1c1c1c">-1</text>
<text id="t91" x="200.04" y="741.60" text-anchor="middle" font-family="Liberation Sans" font-weight="normal" font-size="14.00" textLength="78.15" lengthAdjust="spacingAndGlyphs" fill="#1c1c1c">)&#160;of&#160;fababean</text>
<text id="t92" x="382.31" y="692.30" text-anchor="middle" font-family="Liberation Sans" font-weight="bold" font-size="10.60" textLength="7.39" lengthAdjust="spacingAndGlyphs" fill="#1c1c1c">0</text>
<text id="t93" x="376.14" y="664.52" text-anchor="middle" font-family="Liberation Sans" font-weight="bold" font-size="10.60" textLength="19.55" lengthAdjust="spacingAndGlyphs" fill="#1c1c1c">200</text>
<text id="t94" x="376.37" y="636.74" text-anchor="middle" font-family="Liberation Sans" font-weight="bold" font-size="10.60" textLength="19.56" lengthAdjust="spacingAndGlyphs" fill="#1c1c1c">400</text>
<text id="t95" x="376.15" y="608.96" text-anchor="middle" font-family="Liberation Sans" font-weight="bold" font-size="10.60" textLength="19.72" lengthAdjust="spacingAndGlyphs" fill="#1c1c1c">600</text>
<text id="t96" x="376.20" y="581.18" text-anchor="middle" font-family="Liberation Sans" font-weight="bold" font-size="10.60" textLength="19.77" lengthAdjust="spacingAndGlyphs" fill="#1c1c1c">800</text>
<text id="t97" x="373.33" y="553.40" text-anchor="middle" font-family="Liberation Sans" font-weight="bold" font-size="10.60" textLength="25.68" lengthAdjust="spacingAndGlyphs" fill="#1c1c1c">1000</text>
<text id="t98" x="373.33" y="525.62" text-anchor="middle" font-family="Liberation Sans" font-weight="bold" font-size="10.60" textLength="25.68" lengthAdjust="spacingAndGlyphs" fill="#1c1c1c">1200</text>
<text id="t99" x="628.91" y="509.50" text-anchor="middle" font-family="Liberation Sans" font-weight="bold" font-size="11.20" textLength="70.80" lengthAdjust="spacingAndGlyphs" fill="#1c1c1c">Full&#160;Irrigation</text>
<text id="t100" x="639.33" y="524.60" text-anchor="middle" font-family="Liberation Sans" font-weight="bold" font-size="11.20" textLength="91.67" lengthAdjust="spacingAndGlyphs" fill="#1c1c1c">Limited&#160;Irrigation</text>
<text id="t101" x="432.71" y="709.10" text-anchor="middle" font-family="Liberation Sans" font-weight="bold" font-size="11.20" textLength="22.44" lengthAdjust="spacingAndGlyphs" fill="#1c1c1c">Sole</text>
<text id="t102" x="433.06" y="723.80" text-anchor="middle" font-family="Liberation Sans" font-weight="bold" font-size="11.20" textLength="48.87" lengthAdjust="spacingAndGlyphs" fill="#1c1c1c">rapeseed</text>
<text id="t103" x="504.35" y="709.20" text-anchor="middle" font-family="Liberation Sans" font-weight="bold" font-size="11.20" textLength="43.86" lengthAdjust="spacingAndGlyphs" fill="#1c1c1c">Wheat&#160;+</text>
<text id="t104" x="503.96" y="723.90" text-anchor="middle" font-family="Liberation Sans" font-weight="bold" font-size="11.20" textLength="33.25" lengthAdjust="spacingAndGlyphs" fill="#1c1c1c">Barley</text>
<text id="t105" x="575.03" y="709.20" text-anchor="middle" font-family="Liberation Sans" font-weight="bold" font-size="11.20" textLength="43.09" lengthAdjust="spacingAndGlyphs" fill="#1c1c1c">Barley&#160;+</text>
<text id="t106" x="575.18" y="724.00" text-anchor="middle" font-family="Liberation Sans" font-weight="bold" font-size="11.20" textLength="49.26" lengthAdjust="spacingAndGlyphs" fill="#1c1c1c">rapeseed</text>
<text id="t107" x="646.41" y="709.20" text-anchor="middle" font-family="Liberation Sans" font-weight="bold" font-size="11.20" textLength="61.13" lengthAdjust="spacingAndGlyphs" fill="#1c1c1c">Fababean&#160;+</text>
<text id="t108" x="646.08" y="724.00" text-anchor="middle" font-family="Liberation Sans" font-weight="bold" font-size="11.20" textLength="49.28" lengthAdjust="spacingAndGlyphs" fill="#1c1c1c">rapeseed</text>
<text id="t109" x="462.81" y="742.60" text-anchor="middle" font-family="Liberation Sans" font-weight="normal" font-size="14.30" textLength="130.27" lengthAdjust="spacingAndGlyphs" fill="#1c1c1c">f.&#160;Grain&#160;yield&#160;(kg&#160;ha</text>
<text id="t110" x="533.59" y="739.00" text-anchor="middle" font-family="Liberation Sans" font-weight="normal" font-size="10.00" textLength="9.93" lengthAdjust="spacingAndGlyphs" fill="#1c1c1c">-1</text>
<text id="t111" x="582.76" y="742.60" text-anchor="middle" font-family="Liberation Sans" font-weight="normal" font-size="14.30" textLength="89.53" lengthAdjust="spacingAndGlyphs" fill="#1c1c1c">)&#160;of&#160;rapeseed</text>
<rect x="380" y="488.5" width="305" height="7" fill="#fff"/>
</svg>
</body></html>
